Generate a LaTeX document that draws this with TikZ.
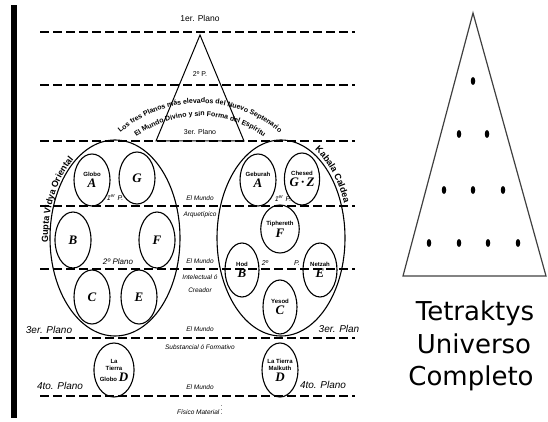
\documentclass[tikz,border=0pt]{standalone}
\usepackage{fontspec}
\setmainfont{Liberation Sans}
\newfontfamily\tetrafont{DejaVu Sans}
\newfontfamily\letrafont{Liberation Serif}
\usetikzlibrary{shapes.geometric, decorations.text}

\newcommand{\letra}[1]{{\letrafont\itshape\bfseries\fontsize{13}{13}\selectfont #1}}

\begin{document}
\begin{tikzpicture}[
    x=1pt, y=1pt,
    plano/.style={dashed, line width=1.6pt, dash pattern=on 8.5pt off 4.5pt},
    orbe/.style={ellipse, draw, line width=1.1pt, inner sep=0pt},
    sefira/.style={ellipse, draw, line width=1.1pt, minimum width=36pt, minimum height=52pt, inner sep=0pt, align=center, font=\fontsize{6}{6.5}\selectfont\bfseries},
    mundo/.style={font=\fontsize{6.5}{7}\selectfont\itshape},
    nivel/.style={font=\fontsize{10}{12}\selectfont\itshape},
    punto/.style={ellipse, fill=black, minimum width=4.5pt, minimum height=8pt, inner sep=0pt},
    tetra/.style={anchor=base, font=\tetrafont\fontsize{26}{32}\selectfont}
]
\useasboundingbox (0,0) rectangle (548,421);

% barra y planos
\fill (11,3) rectangle (17,416);
\foreach \y in {389,336,280,215,152,83,25}
    \draw[plano] (40,\y) -- (355,\y);

% triangulo superior
\coordinate (cima) at (200,386);
\coordinate (bizq) at (156,280);
\coordinate (bder) at (244,280);
\draw[line width=1pt] (bizq) -- (cima) -- (bder) -- cycle;
\node[font=\fontsize{8.5}{10}\selectfont] (p1) at (200,403) {1er. Plano};
\node[font=\fontsize{7}{8}\selectfont] (p2) at (200,347) {2º P.};
\node[font=\fontsize{7}{8}\selectfont] (p3) at (200,289) {3er. Plano};

% textos en arco
\path[decorate, decoration={text along path, text align=center,
    text={|\fontsize{7}{7}\selectfont\bfseries|Los tres Planos más elevados del Nuevo Septenario}}]
    (200,197) ++(136:121) arc[start angle=136, end angle=44, radius=121];
\path[decorate, decoration={text along path, text align=center,
    text={|\fontsize{7}{7}\selectfont\bfseries|El Mundo Divino y sin Forma del Espíritu}}]
    (200,197) ++(130:108) arc[start angle=130, end angle=50, radius=108];

% ovalos grandes
\node[orbe, minimum width=130pt, minimum height=196pt] (gupta) at (115,183) {};
\node[orbe, minimum width=128pt, minimum height=196pt] (kabala) at (281,183) {};
\path[decorate, decoration={text along path, text align=center,
    text={|\fontsize{9}{10}\selectfont\bfseries|Gupta Vidya Oriental}}]
    (115,183) ++(195:67 and 100) arc[start angle=195, end angle=112, x radius=67, y radius=100];
\path[decorate, decoration={text along path, text align=center,
    text={|\fontsize{9}{10}\selectfont\bfseries|Kabala Caldea}}]
    (281,183) ++(76:67 and 102) arc[start angle=76, end angle=8, x radius=67, y radius=102];

% Gupta Vidya
\node[sefira] (globo) at (92,241) {Globo\\[1pt]\letra{A}};
\node[sefira] (g) at (137,243) {\letra{G}};
\node[sefira, minimum height=56pt] (b) at (73,181) {\letra{B}};
\node[sefira, minimum height=56pt] (f) at (157,181) {\letra{F}};
\node[sefira, minimum height=54pt] (c) at (92,124) {\letra{C}};
\node[sefira, minimum height=54pt] (e) at (139,124) {\letra{E}};
\node[sefira, minimum width=35pt, minimum height=54pt] (globod) at (114,51) {La\\[1pt]Tierra\\[1pt]Globo \letra{D}};
\node[font=\fontsize{7}{8}\selectfont\itshape] (iz1) at (115,223) {1\textsuperscript{er} P.};
\node[font=\fontsize{8}{9}\selectfont\itshape] (iz2) at (118,159) {2º Plano};
\node[nivel] (iz3) at (49,91) {3er. Plano};
\node[nivel] (iz4) at (60,35) {4to. Plano};

% Kabala
\node[sefira] (geburah) at (258,241) {Geburah\\[1pt]\letra{A}};
\node[sefira, minimum width=34pt] (chesed) at (302,242) {Chesed\\[1pt]\letra{G\,·\,Z}};
\node[sefira, minimum height=48pt] (tiphereth) at (280,192) {Tiphereth\\[1pt]\letra{F}};
\node[sefira, minimum width=34pt, minimum height=54pt] (hod) at (242,151) {Hod\\[1pt]\letra{B}};
\node[sefira, minimum width=34pt, minimum height=54pt] (netzah) at (320,151) {Netzah\\[1pt]\letra{E}};
\node[sefira, minimum width=34pt, minimum height=54pt] (yesod) at (280,114) {Yesod\\[1pt]\letra{C}};
\node[sefira, minimum height=54pt] (malkuth) at (280,51) {La Tierra\\[1pt]Malkuth\\[1pt]\letra{D}};
\node[font=\fontsize{7}{8}\selectfont\itshape] (de1) at (283,222) {1\textsuperscript{er} P.};
\node[font=\fontsize{7}{8}\selectfont\itshape] (de2a) at (265,158) {2º};
\node[font=\fontsize{7}{8}\selectfont\itshape] (de2b) at (297,158) {P.};
\node[nivel] (de3) at (339,92) {3er. Plan};
\node[nivel] (de4) at (323,36) {4to. Plano};

% mundos
\node[mundo] (mundo1) at (200,223) {El Mundo};
\node[mundo] (arque) at (200,206) {Arquetípico};
\node[mundo] (mundo2) at (200,160) {El Mundo};
\node[mundo] (intel) at (200,144) {Intelectual ó};
\node[mundo] (creador) at (200,131) {Creador};
\node[mundo] (mundo3) at (200,92) {El Mundo};
\node[mundo] (subst) at (200,74) {Substancial ó Formativo};
\node[mundo] (mundo4) at (200,34) {El Mundo};
\node[mundo] (fisico) at (200,14) {Físico Material $\vdots$};

% Tetraktys
\draw[line width=1.2pt, black!75] (403,145) -- (473,408) -- (546,145) -- cycle;
\foreach \x/\y in {473/340, 459/287, 487/287, 444/231, 473/231, 503/231, 429/178, 459/178, 488/178, 518/178}
    \node[punto] (pt-\x-\y) at (\x,\y) {};
\node[tetra] (t1) at (475,101) {Tetraktys};
\node[tetra] (t2) at (474,68) {Universo};
\node[tetra] (t3) at (471,36) {Completo};
\end{tikzpicture}
\end{document}
